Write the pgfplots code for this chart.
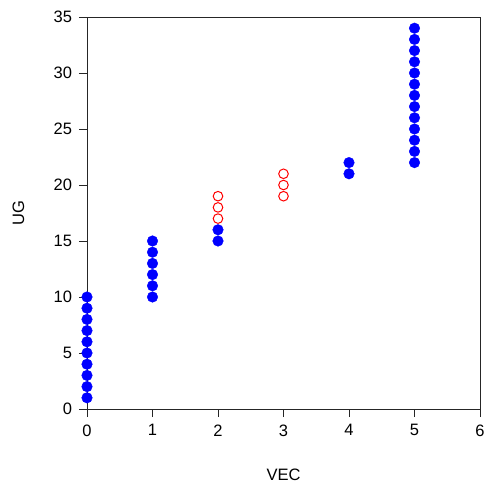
\documentclass[border=0pt]{standalone}
\usepackage{fontspec}
\setmainfont{Liberation Sans}
\usepackage{pgfplots}
\pgfplotsset{compat=1.18}
\begin{document}
\begin{tikzpicture}
\path[use as bounding box] (-87pt,-80pt) rectangle (398pt,409pt);
\begin{axis}[
  at={(0,0)}, anchor=south west,
  scale only axis, width=393pt, height=392pt,
  xmin=0, xmax=6, ymin=0, ymax=35,
  xtick={0,...,6}, ytick={0,5,...,35},
  axis line style={line width=0.9pt, black!85},
  tick style={line width=0.9pt, black!85},
  tick align=outside, major tick length=8pt,
  xtick pos=bottom, ytick pos=left,
  tick label style={font=\fontsize{16.5}{19}\selectfont},
  xticklabel style={yshift=-4pt},
  yticklabel style={xshift=-3.5pt},
  /pgf/number format/assume math mode=true,
  xlabel={VEC}, ylabel={UG},
  every axis x label/.style={at={(axis description cs:0.5,-0.1684)}, anchor=center, font=\fontsize{16.5}{19}\selectfont},
  every axis y label/.style={at={(axis description cs:-0.1743,0.5)}, anchor=center, rotate=90, font=\fontsize{16.5}{19}\selectfont},
  clip=false]
\addplot[only marks, mark=*, mark size=5.3pt, mark options={fill=blue, draw=blue, line width=0.4pt}] coordinates {
  (0,1) (0,2) (0,3) (0,4) (0,5) (0,6) (0,7) (0,8) (0,9) (0,10)
  (1,10) (1,11) (1,12) (1,13) (1,14) (1,15)
  (2,15) (2,16)
  (4,21) (4,22)
  (5,22) (5,23) (5,24) (5,25) (5,26) (5,27) (5,28) (5,29) (5,30) (5,31) (5,32) (5,33) (5,34)};
\addplot[only marks, mark=o, mark size=4.8pt, mark options={draw=red, line width=1pt, fill=none}] coordinates {
  (2,17) (2,18) (2,19)
  (3,19) (3,20) (3,21)};
\end{axis}
\end{tikzpicture}
\end{document}
